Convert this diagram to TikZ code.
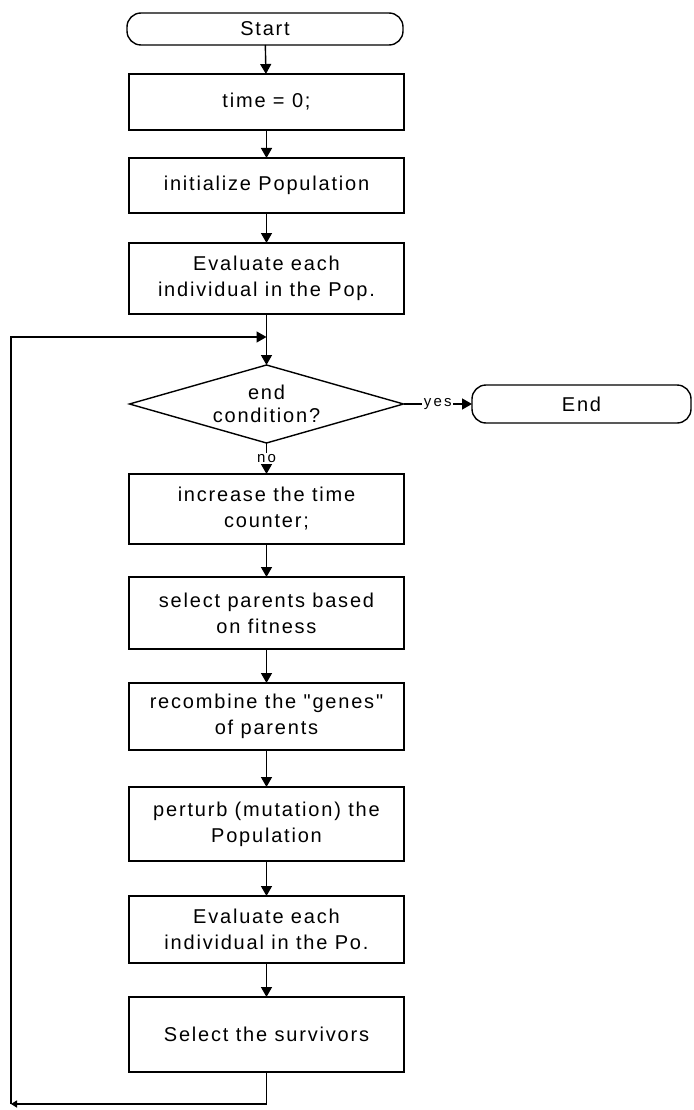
\documentclass[tikz,border=0pt]{standalone}
\usepackage{fontspec}
\usetikzlibrary{arrows.meta}
\newfontfamily\boxfont{Liberation Sans}[LetterSpace=9]
\newfontfamily\lblfont{Liberation Sans}[LetterSpace=15]
\tikzset{
  every node/.style={inner sep=0pt, outer sep=0pt},
  stepbox/.style={draw, line width=1.4pt, minimum width=275pt, align=center,
    font=\boxfont\fontsize{20}{26}\selectfont},
  termbox/.style={draw, line width=1.4pt, rounded corners=14pt, align=center,
    font=\boxfont\fontsize{20}{26}\selectfont},
  condtext/.style={minimum width=274pt, minimum height=78pt, align=center,
    font=\boxfont\fontsize{20}{23}\selectfont},
  lbl/.style={fill=white, inner sep=1.5pt, font=\lblfont\fontsize{15}{17}\selectfont},
  arr/.style={line width=1.4pt, -{Triangle[length=10pt,width=11pt]}},
  smallarr/.style={line width=1.4pt, -{Triangle[length=6pt,width=7pt]}},
  conn/.style={line width=1.4pt}
}
\begin{document}
\begin{tikzpicture}[x=1pt,y=-1pt]
\useasboundingbox (0,0) rectangle (693,1110);
\node[termbox, minimum width=276pt, minimum height=32pt] (start) at (265,29) {Start};
\node[stepbox, minimum height=56pt] (t0) at (266.5,102) {time = 0;};
\node[stepbox, minimum height=55pt] (init) at (266.5,185.5) {initialize Population};
\node[stepbox, minimum height=71pt] (eval1) at (266.5,278.5) {Evaluate each\\individual in the Pop.};
\node[condtext] (cond) at (266.5,404) {end\\condition?};
\draw[line width=1.4pt] (cond.north) -- (cond.east) -- (cond.south) -- (cond.west) -- cycle;
\node[termbox, minimum width=219pt, minimum height=38pt] (endt) at (581.5,404) {End};
\node[stepbox, minimum height=70pt] (inc) at (266.5,509) {increase the time\\counter;};
\node[stepbox, minimum height=72pt] (sel) at (266.5,613) {select parents based\\on fitness};
\node[stepbox, minimum height=67pt] (rec) at (266.5,716.5) {recombine the "genes"\\of parents};
\node[stepbox, minimum height=74pt] (per) at (266.5,824) {perturb (mutation) the\\Population};
\node[stepbox, minimum height=67pt] (eval2) at (266.5,929.5) {Evaluate each\\individual in the Po.};
\node[stepbox, minimum height=75pt] (surv) at (266.5,1034.5) {Select the survivors};

\coordinate (bl) at (11,1104);
\coordinate (tl) at (11,337);
\coordinate (jn) at (266.5,337);

\draw[arr] (start) -- (t0);
\draw[arr] (t0) -- (init);
\draw[arr] (init) -- (eval1);
\draw[arr] (eval1) -- (cond.north);
\draw[arr] (cond.south) -- node[lbl] {no} (inc.north);
\draw[arr] (cond.east) -- node[lbl] {yes} (endt.west);
\draw[arr] (inc) -- (sel);
\draw[arr] (sel) -- (rec);
\draw[arr] (rec) -- (per);
\draw[arr] (per) -- (eval2);
\draw[arr] (eval2) -- (surv);
\draw[smallarr] (surv.south) |- (bl);
\draw[arr] (bl) -- (tl) -- (jn);
\end{tikzpicture}
\end{document}
